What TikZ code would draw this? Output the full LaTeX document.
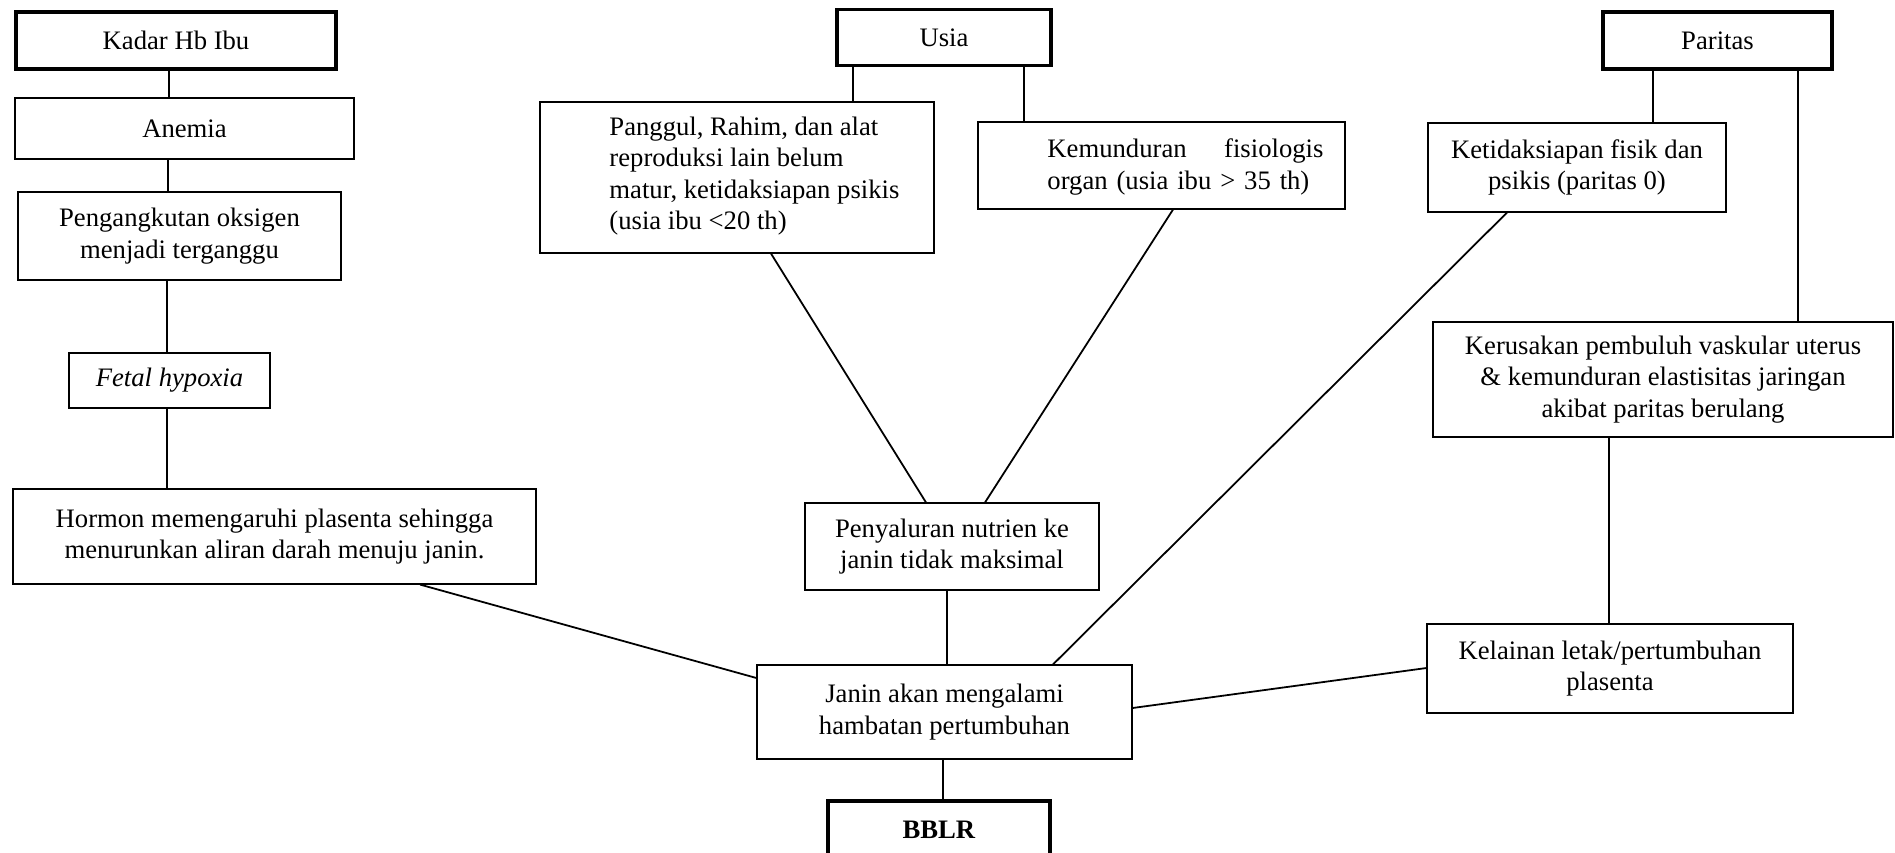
\documentclass[tikz,border=0pt]{standalone}
\usepackage{fontspec}
\setmainfont{Liberation Serif}
\usepackage{tikz}
\usetikzlibrary{calc}
\def\pxu{0.45pt}
\tikzset{
    box/.style={
        draw,
        rectangle,
        fill=white,
        line width=0.5pt,
        inner sep=0pt,
        align=center,
        font=\fontsize{12}{14.1}\selectfont
    },
    mainbox/.style={
        box,
        line width=1.4pt
    },
    boxsize/.style 2 args={
        minimum width=#1*\pxu,
        minimum height=#2*\pxu
    },
    boxtext/.style={
        inner sep=0pt,
        font=\fontsize{12}{14.1}\selectfont
    },
    link/.style={
        draw=black,
        line width=0.8pt
    }
}

\begin{document}
\begin{tikzpicture}[x=\pxu, y=-\pxu]
  \useasboundingbox (0,0) rectangle (1895,852);

  % Kadar Hb Ibu column
  \node[mainbox, boxsize={320}{57}] (kadar) at (176,40.5) {Kadar Hb Ibu};
  \node[box, boxsize={339}{61}] (anemia) at (184.5,128.5) {Anemia};
  \node[box, boxsize={323}{88}] (angkut) at (179.5,236) {Pengangkutan oksigen\\menjadi terganggu};
  \node[box, boxsize={201}{55}] (hypoxia) at (169.5,380.5) {\textit{Fetal hypoxia}};
  \node[box, boxsize={523}{95}] (hormon) at (274.5,536.5) {Hormon memengaruhi plasenta sehingga\\menurunkan aliran darah menuju janin.};

  % Usia column
  \node[mainbox, boxsize={214}{56}] (usia) at (944,37.5) {Usia};
  \node[box, boxsize={394}{151}] (panggul) at (737,177.5) {};
  \node[boxtext, anchor=west, align=left] (panggul-txt) at (609,176)
    {Panggul, Rahim, dan alat\\reproduksi lain belum\\matur, ketidaksiapan psikis\\(usia ibu <20 th)};
  \node[box, boxsize={367}{87}] (mundur) at (1161.5,165.5) {};
  \node[boxtext, anchor=west, align=left, text width=276*\pxu] (mundur-txt) at (1047,167)
    {Kemunduran\hfill fisiologis\\organ (usia ibu > 35 th)};
  \node[box, boxsize={294}{87}] (nutrien) at (952,546.5) {Penyaluran nutrien ke\\janin tidak maksimal};

  % Paritas column
  \node[mainbox, boxsize={229}{57}] (paritas) at (1717.5,40.5) {Paritas};
  \node[box, boxsize={298}{89}] (siap) at (1577,167.5) {Ketidaksiapan fisik dan\\psikis (paritas 0)};
  \node[box, boxsize={460}{115}] (rusak) at (1663,379.5) {Kerusakan pembuluh vaskular uterus\\\& kemunduran elastisitas jaringan\\akibat paritas berulang};
  \node[box, boxsize={366}{89}] (kelainan) at (1610,668.5) {Kelainan letak/pertumbuhan\\plasenta};

  % Outcome
  \node[box, boxsize={375}{94}] (janin) at (944.5,712) {Janin akan mengalami\\hambatan pertumbuhan};
  \node[mainbox, boxsize={222}{57}] (bblr) at (939,829.5) {\textbf{BBLR}};

  % Connectors
  \draw[link] (kadar.south -| 169,0) -- (anemia.north -| 169,0);
  \draw[link] (anemia.south -| 168,0) -- (angkut.north -| 168,0);
  \draw[link] (angkut.south -| 167,0) -- (hypoxia.north -| 167,0);
  \draw[link] (hypoxia.south -| 167,0) -- (hormon.north -| 167,0);
  \draw[link] (hormon.south -| 420,0) -- (janin.west |- 0,678);

  \draw[link] (usia.south -| 853,0) -- (panggul.north -| 853,0);
  \draw[link] (usia.south -| 1024,0) -- (mundur.north -| 1024,0);
  \draw[link] (panggul.south -| 771,0) -- (nutrien.north -| 926,0);
  \draw[link] (mundur.south -| 1173,0) -- (nutrien.north -| 985,0);
  \draw[link] (nutrien.south -| 947,0) -- (janin.north -| 947,0);

  \draw[link] (paritas.south -| 1653,0) -- (siap.north -| 1653,0);
  \draw[link] (paritas.south -| 1798,0) -- (rusak.north -| 1798,0);
  \draw[link] (siap.south -| 1507,0) -- (janin.north -| 1053,0);
  \draw[link] (rusak.south -| 1609,0) -- (kelainan.north -| 1609,0);
  \draw[link] (kelainan.west |- 0,668) -- (janin.east |- 0,708);

  \draw[link] (janin.south -| 943,0) -- (bblr.north -| 943,0);
\end{tikzpicture}
\end{document}
